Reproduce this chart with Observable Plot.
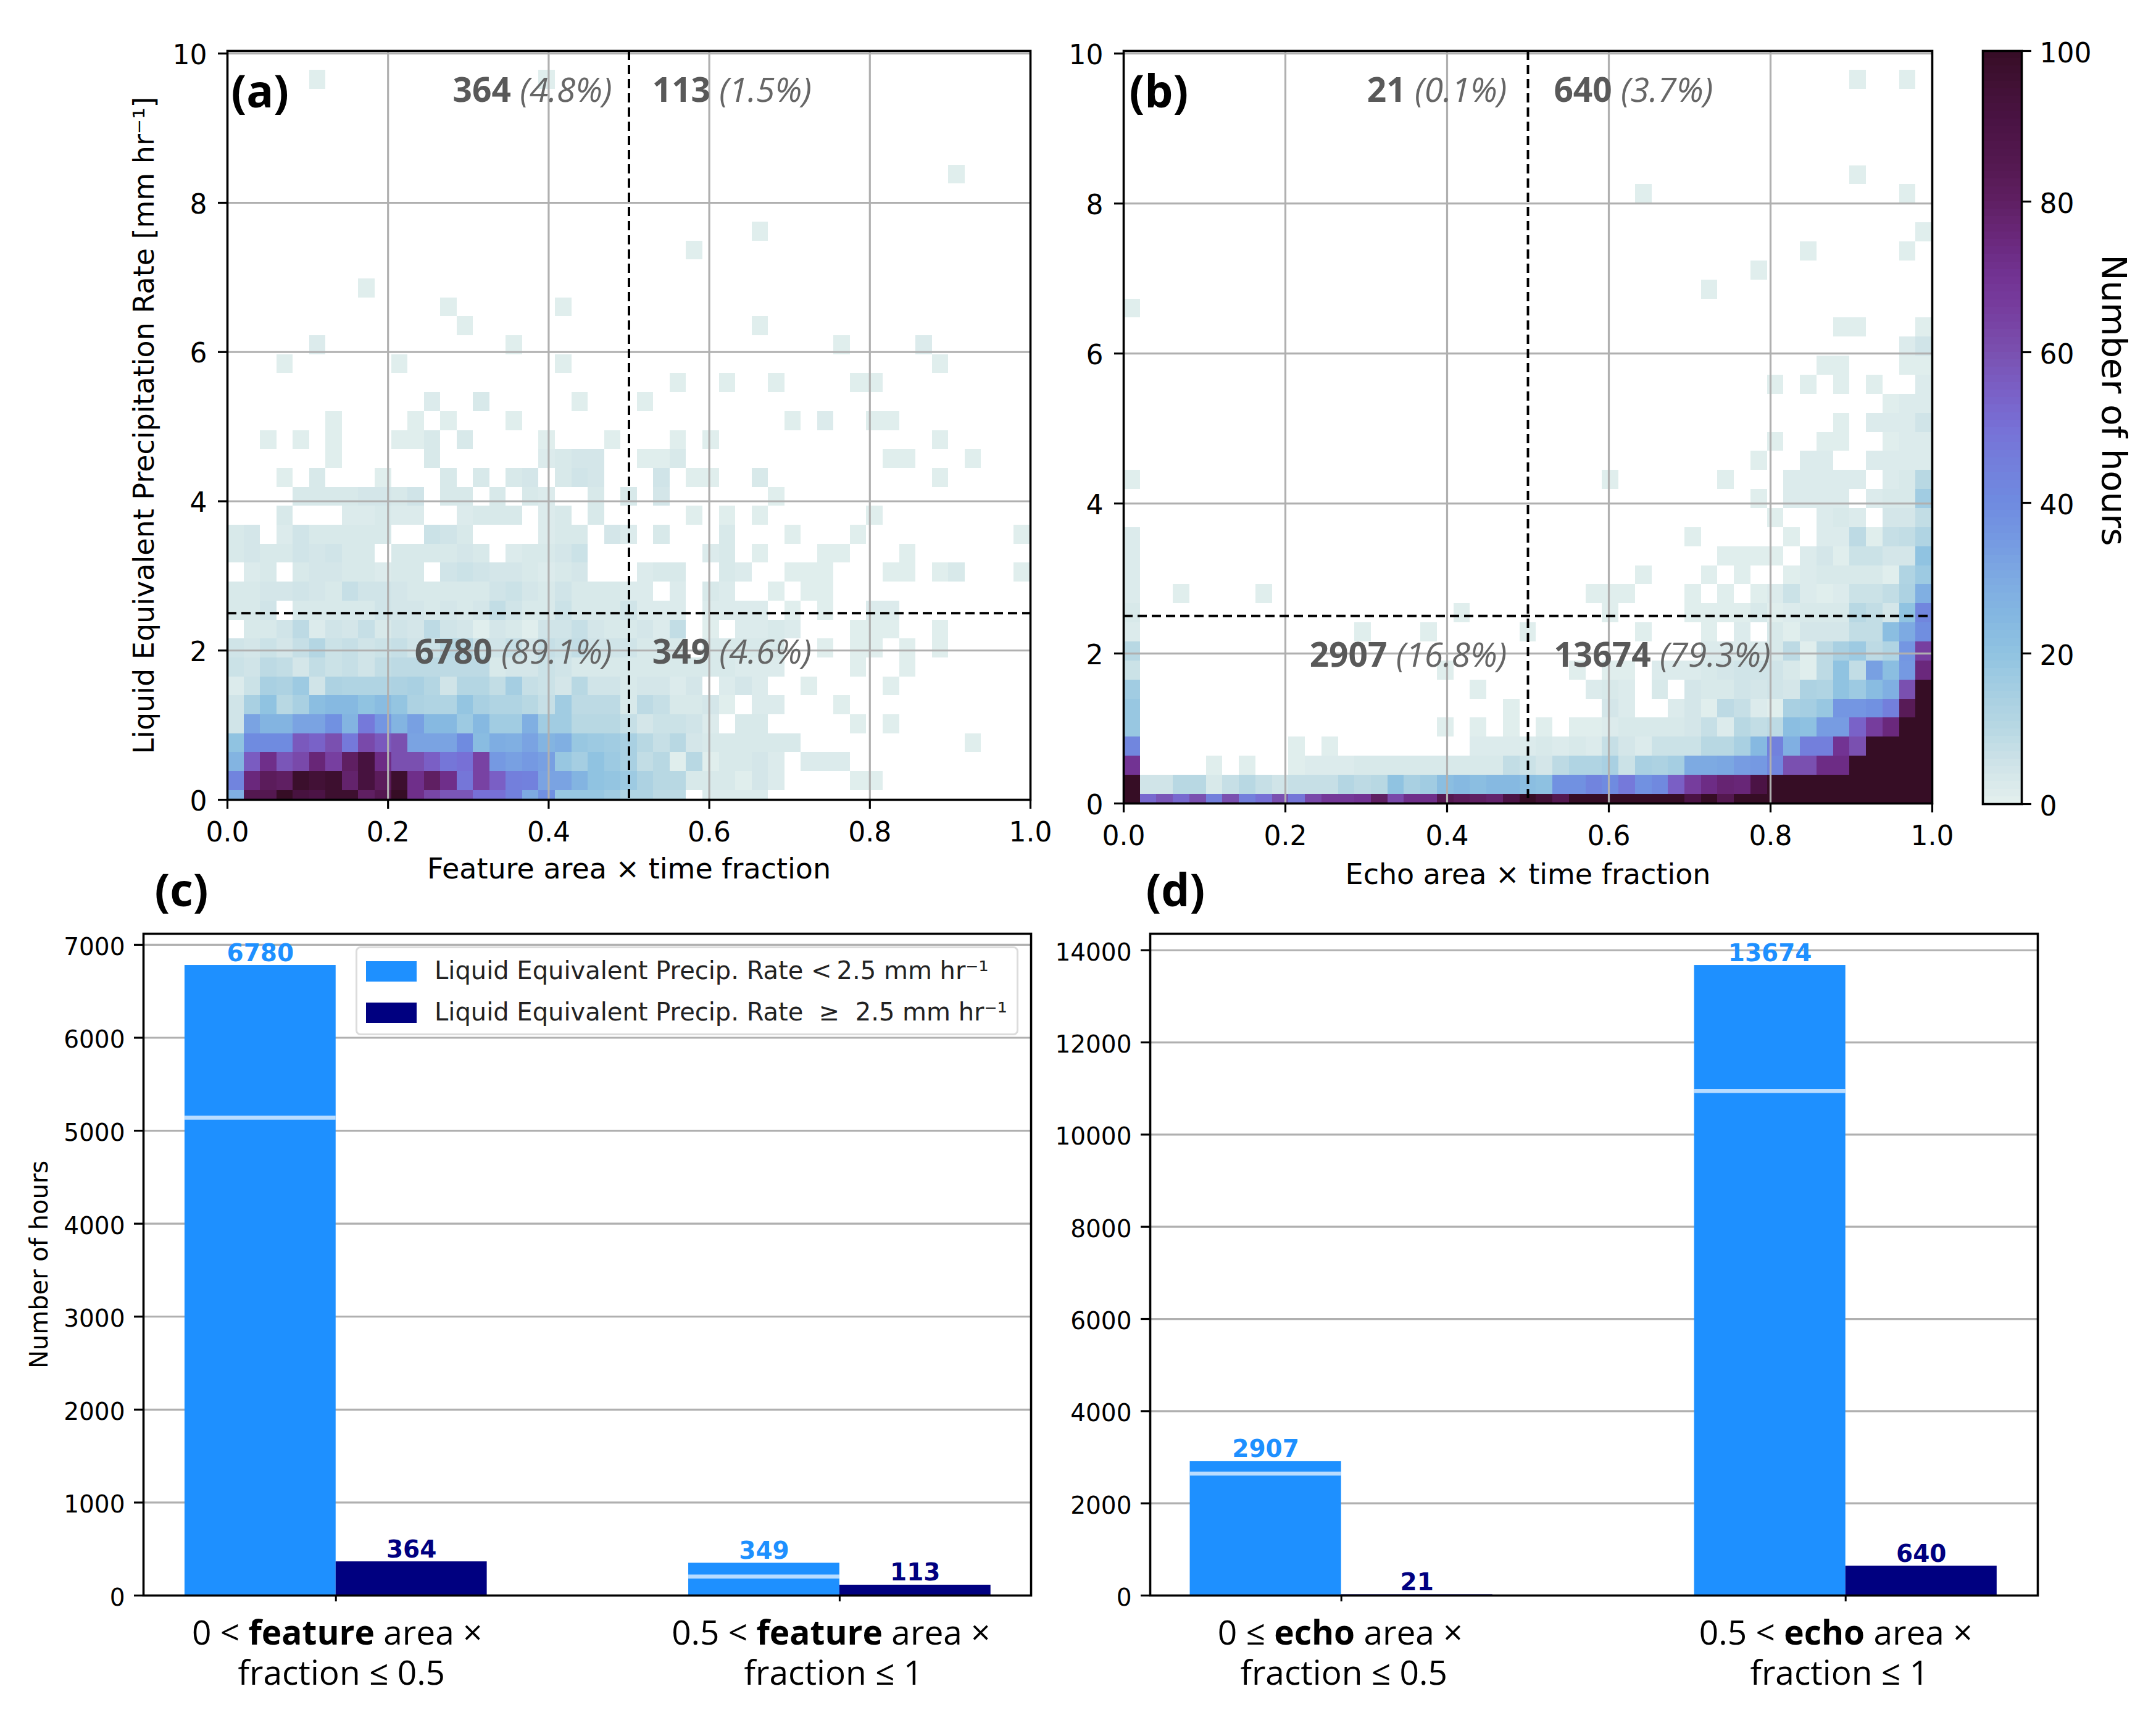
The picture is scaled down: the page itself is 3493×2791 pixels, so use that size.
<!DOCTYPE html>
<html><head><meta charset="utf-8">
<script src="https://cdn.jsdelivr.net/npm/d3@7"></script>
<script src="https://cdn.jsdelivr.net/npm/@observablehq/plot@0.6"></script>
<style>
html,body{margin:0;padding:0;background:#fff}
#page{position:relative;width:3493px;height:2791px;overflow:hidden;background:#fff}
#page svg{position:absolute;left:0;top:0;background:transparent;max-width:none}
#legend{position:absolute;left:576px;top:1533px;width:1074px;height:144px;box-sizing:border-box;background:rgba(255,255,255,.9);border:3px solid #dcdcdc;border-radius:8px;font:40px "DejaVu Sans";color:#222}
#legend div{position:absolute;left:125px;white-space:pre}
#legend i{position:absolute;left:14px;width:82px;height:33px}
</style></head><body><div id="page"></div>
<script>
// heat-map bins: [row, first column, values...]  (49 columns, 40 rows, count of hours)
const panelALow = [
 [0,0,[28,85,85,100,92,90,97,97,80,85,100,72,63,58,58,50,50,44,30,38,18,18,18,16,12,12,9,9]],[0,29,[2,2,2,2]],
 [1,0,[43,75,82,80,98,95,97,78,92,82,97,72,80,72,48,64,55,45,44,32,32,26,20,19,17,13,10,10,3,3,3,1,4,2]],[1,38,[1,1]],
 [2,0,[26,56,72,58,62,76,65,80,92,73,60,60,55,48,50,64,35,33,35,33,18,15,20,17,14,8,10,1,10,1,3,3,4,2]],[2,35,[2,2,2]],
 [3,0,[20,40,40,40,57,54,60,47,62,57,60,32,32,32,40,23,29,28,32,26,28,18,17,16,14,10,7,10,4,3,3,3,3,3,3]],[3,45,[1]],
 [4,0,[5,32,26,26,32,32,38,26,47,36,26,33,24,24,17,24,16,16,28,16,16,10,10,10,7,4,6,6,5,2]],[4,31,[3,3]],[4,38,[1]],[4,40,[1]],
 [5,0,[5,14,20,10,14,22,24,24,20,23,19,13,12,12,19,14,12,12,10,7,16,9,9,9,3,9,7,3,3,4,1]],[5,32,[2,2]],[5,37,[1]],
 [6,0,[2,6,14,13,17,5,13,12,12,12,13,14,11,5,11,11,8,15,7,6,4,10,5,5,3,4,4,2,4]],[6,30,[2,4,2]],[6,35,[1]],[6,40,[1]],
 [7,0,[6,5,9,8,4,8,6,7,5,8,9,9,9,9,9,9,3,4,4,6,5,3,3,3,3,3,3,3,3,3,3,2,2,2]],[7,38,[1]],[7,41,[1]],
 [8,0,[5,4,6,4,7,11,6,7,5,6,7,5,6,10,10,6,5,7,4,7,6,8,5,5,5,3,3,3]],[8,29,[3,3,3,3,3]],[8,36,[1]],[8,38,[1,1]],[8,41,[1]],[8,43,[1]],
 [9,1,[3,3,5,9,2,5,4,7,3,5,4,9,5,4,1,4,3,1,5,5,7,4,3,3,4,2,8]],[9,29,[1]],[9,31,[2,2,3,2]],[9,38,[1,1,1]],[9,43,[1]],
 [10,0,[3,3,5]],[10,4,[3,3,3,3,3,5,4,4,3,4,3,4,8,5,3,3,6,3,3,3,5,2,2,2]],[10,29,[2,2,2,2]],[10,34,[1]],[10,36,[1]],[10,39,[2,2]],
 [11,0,[3,3,4,4,5,4,3,7,5,5,4,3,3,3,3,3,5,6,4,3,5,3,3,3,2,2]],[11,27,[2]],[11,29,[3,2]],[11,33,[1]],[11,35,[1,1]]
];
const panelAHigh = [
 [12,1,[2,3]],[12,4,[3,4,4,3,3,2,3,3]],[12,13,[5,6,5,4,4,3,2,3,4]],[12,25,[2,3,3]],[12,30,[3,2]],[12,34,[1,1,1]],[12,40,[1,1]],[12,43,[1,3]],[12,48,[1]],
 [13,0,[3,4,3,3,5,4,5,3,3]],[13,10,[3,3,3,3,4,3]],[13,17,[2,3,3,4,6]],[13,29,[2,3]],[13,32,[1]],[13,36,[1,1]],[13,41,[1]],
 [14,0,[3,4]],[14,3,[2,5,3,3,3,3,3]],[14,12,[6,5,3]],[14,19,[2,3,3]],[14,23,[4,2]],[14,26,[3]],[14,30,[3]],[14,34,[1]],[14,38,[1]],[14,48,[1]],
 [15,3,[3]],[15,7,[2,2,3,2,2]],[15,14,[2,3,3,3]],[15,19,[2,3]],[15,22,[3]],[15,28,[1]],[15,30,[1]],[15,32,[1]],[15,39,[1]],
 [16,4,[3,3,3,3,4,4,3,5]],[16,13,[3,3]],[16,16,[3]],[16,18,[3,2]],[16,22,[3]],[16,24,[3]],[16,26,[4]],[16,33,[1]],
 [17,3,[1]],[17,5,[3]],[17,9,[1]],[17,13,[3]],[17,15,[3]],[17,17,[3,4]],[17,20,[3,5,4]],[17,26,[5]],[17,28,[1,1]],[17,32,[3]],[17,43,[1]],
 [18,6,[1]],[18,12,[3]],[18,19,[2,3,4,4]],[18,25,[1,1,3]],[18,40,[1,1]],[18,45,[1]],
 [19,2,[1]],[19,4,[1]],[19,6,[1]],[19,10,[1,1,3]],[19,14,[3]],[19,19,[1]],[19,23,[1]],[19,27,[1]],[19,29,[1]],[19,43,[1]],
 [20,6,[1]],[20,11,[1]],[20,13,[1]],[20,17,[1]],[20,34,[1]],[20,36,[2]],[20,39,[1,1]],
 [21,12,[2]],[21,15,[3]],[21,21,[1]],[21,25,[1]],
 [22,27,[1]],[22,30,[1]],[22,33,[1]],[22,38,[1,1]],
 [23,3,[1]],[23,10,[1]],[23,20,[1]],[23,43,[1]],
 [24,5,[2]],[24,17,[1]],[24,37,[1]],[24,42,[2]],
 [25,14,[1]],[25,32,[1]],[26,13,[1]],[26,20,[1]],[27,8,[1]],[29,28,[1]],[30,32,[1]],[33,44,[1]],[38,5,[1]],[38,19,[1]]
];
const panelBLow = [
 [0,0,[100,52,58,52,60,45,60,45,50,60,48,62,68,68,70,80,62,72,72,85,82,80,78,90,100,95,85,100,100,100,100,100,100,100,90,100,85,100,100,100,100,100,100,100,100,100,100,100,100]],
 [1,0,[100,5,5,10,10,3,7,10,7,5,7,7,7,11,9,10,20,14,16,22,24,22,24,24,22,21,38,38,43,40,47,38,41,55,66,73,77,76,90,100,100,100,100,100,100,100,100,100,100]],
 [2,0,[70]],[2,5,[1]],[2,7,[1]],[2,10,[1,2,2,2,3,3,3,3,3,3,3,3,3,8,6,4,9,12,12,14,6,14,13,15,30,30,31,34,35,42,60,60,73,73,100,100,100,100,100]],
 [3,0,[42]],[3,10,[1]],[3,12,[1]],[3,21,[2,2,2,2,3,2,3,2,7,4,2,6,6,6,10,10,14,24,44,28,45,45,70,60,100,100,100,100]],
 [4,0,[18]],[4,19,[1]],[4,21,[1]],[4,23,[1]],[4,25,[1]],[4,27,[1,1]],[4,29,[2,3,3,3,3,4,7,2,10,8,9,22,21,34,34,54,66,75,100,100]],
 [5,0,[18]],[5,23,[1]],[5,29,[4,2]],[5,33,[2,4,1,9,7,2,1,14,15,18,36,36,38,45,83,100]],
 [6,0,[16]],[6,21,[1]],[6,28,[2,3,2]],[6,32,[3]],[6,34,[4,3,3,5,4,5,4,13,12,20,17,23,28,60,100]],
 [7,0,[6]],[7,19,[1]],[7,27,[1]],[7,29,[1,1]],[7,32,[2,2,2,3,4,5,5,5,3,1,9,20,8,33,22,35,75]],
 [8,0,[10]],[8,35,[2,2,2,2,3,9,1,9,14,17,9,12,36,65]],
 [9,0,[2]],[9,14,[1]],[9,18,[1]],[9,24,[1]],[9,31,[1]],[9,35,[1]],[9,37,[2]],[9,39,[3,1,4,4,4,8,8,22,30,39]],
 [10,0,[3]],[10,20,[1]],[10,29,[1]],[10,34,[1,1,1,1,3,1,2,3,3,3,10,8,4,20,42]],
 [11,0,[2]],[11,3,[1]],[11,8,[1]],[11,28,[1,1,1]],[11,34,[1]],[11,36,[1]],[11,38,[1,2,6,2,1,2,6,6,8,13,28]]
];
const panelBHigh = [
 [12,0,[2]],[12,31,[1]],[12,35,[1]],[12,37,[1]],[12,40,[1,2,3,3,3,3,1,12,17]],
 [13,0,[2]],[13,36,[1,1,1,1]],[13,41,[2,4,1,6,6,4,4,20]],
 [14,0,[2]],[14,34,[1]],[14,40,[1]],[14,42,[2,2,9,1,7,8,12]],
 [15,39,[1]],[15,42,[2,3,2]],[15,46,[4,4,8]],
 [16,38,[1]],[16,40,[2,2,2,2]],[16,45,[2,3,3,16]],
 [17,0,[1]],[17,29,[1]],[17,36,[1]],[17,40,[2,2,2,2,2]],[17,46,[2,3,10]],
 [18,38,[1]],[18,41,[2,2]],[18,45,[2,2,2,2]],
 [19,39,[1]],[19,42,[1,1]],[19,46,[1,2,2]],
 [20,43,[1]],[20,45,[2,2,2,5]],[21,46,[1,2,2]],[22,39,[1]],[22,41,[1]],[22,43,[1]],[22,45,[1]],[22,48,[2]],
 [23,42,[1,1]],[23,47,[1,1]],[24,47,[2,5]],[25,43,[1,1]],[25,48,[1]],[26,0,[1]],[27,35,[1]],[28,38,[1]],[29,41,[1]],[29,47,[1]],
 [30,48,[1]],[32,31,[1]],[32,47,[1]],[33,44,[1]],[38,44,[1]],[38,47,[1]]
];
// colour ramp
const rampValues = [0,5,10,15,20,25,30,35,40,45,50,55,60,65,70,75,80,85,90,95,100];
const rampColors = ["#e4f0ee","#d0e4e8","#b8d8e3","#a5cee2","#90c3e1","#84b7e1","#7daae2","#7599e2","#6f8be0","#737fdc","#7770d6","#7a5fc5","#7a50b0","#773fa0","#723393","#6a287c","#5f1f62","#541850","#4b1345","#421136","#360d25"];
// quadrant annotations
const noteA = ["**364** //(4.8%)//","**113** //(1.5%)//","**6780** //(89.1%)//","**349** //(4.6%)//"];
const noteB = ["**21** //(0.1%)//","**640** //(3.7%)//","**2907** //(16.8%)//","**13674** //(79.3%)//"];
// bars
const lowC = [6780,349], highC = [364,113], lineC = [5140,205];
const lowD = [2907,13674], highD = [21,640], lineD = [2645,10945];
const tickC = [["0 < **feature** area ×","fraction ≤ 0.5"],["0.5 < **feature** area ×","fraction ≤ 1"]];
const tickD = [["0 ≤ **echo** area ×","fraction ≤ 0.5"],["0.5 < **echo** area ×","fraction ≤ 1"]];
const legendItems = [["Liquid Equivalent Precip. Rate <\u20092.5 mm hr⁻¹","#1e90ff"],["Liquid Equivalent Precip. Rate  ≥  2.5 mm hr⁻¹","#000080"]];

const W = 3493, H = 2791, DJ = "DejaVu Sans", OS = "Open Sans", GRID = "#b0b0b0";
const page = document.getElementById("page");
const margins = (l,t,r,b) => ({width:W,height:H,marginLeft:l,marginTop:t,marginRight:W-r,marginBottom:H-b,style:{background:"transparent",color:"black"}});
const noText = () => "";
const yAxis = (ticks,size,padding,dy,anchor) => [
  Plot.axisY({anchor,ticks,tickFormat:noText,label:null,tickSize:15,strokeWidth:3.2,color:"black"}),
  Plot.axisY({anchor,ticks,tickFormat:"d",label:null,tickSize:0,tickPadding:15+padding,dy,fontFamily:DJ,fontSize:size,color:"black"})
];

function expand(list){
  const out=[];
  for(const [row,col,vals] of list) vals.forEach((v,i)=>{
    const k=col+i;
    out.push({x1:k/49,x2:(k+1)/49,y1:row===0?0:0.125+0.254*(row-1),y2:0.125+0.254*row,v});
  });
  return out;
}
function rich(svg){
  // tick-only axes leave empty labels behind: drop them
  svg.querySelectorAll("text").forEach(el=>{ if(!el.textContent.trim()) el.remove(); });
  svg.querySelectorAll("text,tspan").forEach(el=>{
    if(el.children.length||!/\*\*|\/\//.test(el.textContent)) return;
    const parts=el.textContent.split(/(\*\*.+?\*\*|\/\/.+?\/\/)/).filter(s=>s);
    el.textContent="";
    for(const p of parts){
      const t=document.createElementNS("http://www.w3.org/2000/svg","tspan");
      if(p.startsWith("**")){t.textContent=p.slice(2,-2);t.setAttribute("font-weight","bold");}
      else if(p.startsWith("//")){t.textContent=p.slice(2,-2);t.setAttribute("font-style","italic");t.setAttribute("fill","#666");}
      else t.textContent=p;
      el.appendChild(t);
    }
  });
  page.appendChild(svg);
}

function heat(opt){
  const notes=opt.notes;
  rich(Plot.plot({...margins(opt.l,82,opt.r,opt.b),
    x:{domain:[0,1],axis:null},y:{domain:[0,10.035],axis:null},
    color:{type:"linear",domain:rampValues,range:rampColors,clamp:true},
    marks:[
      Plot.rect(opt.cells,{x1:"x1",x2:"x2",y1:"y1",y2:"y2",fill:"v",shapeRendering:"crispEdges"}),
      Plot.gridX({ticks:[0.2,0.4,0.6,0.8],stroke:GRID,strokeOpacity:1,strokeWidth:3.2}),
      Plot.gridY({ticks:[2,4,6,8,10],stroke:GRID,strokeOpacity:1,strokeWidth:3.2}),
      Plot.ruleX([0.5],{strokeDasharray:"15,8",strokeWidth:4,stroke:"black"}),
      Plot.ruleY([2.5],{strokeDasharray:"15,8",strokeWidth:4,stroke:"black"}),
      Plot.text([notes[0],notes[2]],{x:opt.nl,y:(d,i)=>[9.5,1.97][i],text:d=>d,textAnchor:"end",fontFamily:OS,fontSize:55,fill:"#595959"}),
      Plot.text([notes[1],notes[3]],{x:opt.nr,y:(d,i)=>[9.5,1.97][i],text:d=>d,textAnchor:"start",fontFamily:OS,fontSize:55,fill:"#595959"}),
      Plot.text([opt.tag],{frameAnchor:"top-left",dx:opt.tagDx,dy:68,lineAnchor:"middle",textAnchor:"start",fontFamily:OS,fontWeight:"bold",fontSize:73,fill:"black"}),
      Plot.text([opt.xlabel],{frameAnchor:"bottom",dy:opt.xdy,lineAnchor:"middle",textAnchor:"middle",fontFamily:DJ,fontSize:46,fill:"black"}),
      opt.ylabel?Plot.text([opt.ylabel],{frameAnchor:"left",rotate:-90,dx:-134,textAnchor:"middle",lineAnchor:"middle",fontFamily:DJ,fontSize:46,fill:"black"}):null,
      Plot.axisX({ticks:[0,0.2,0.4,0.6,0.8,1],tickFormat:".1f",label:null,tickSize:15,tickPadding:21,strokeWidth:3.2,fontFamily:DJ,fontSize:44,color:"black"}),
      ...yAxis([0,2,4,6,8,10],44,18,3),
      Plot.frame({stroke:"black",strokeWidth:3.6})
    ]}));
}
heat({l:368,r:1669,b:1295,cells:expand(panelALow.concat(panelAHigh)),notes:noteA,nl:0.479,nr:0.529,tag:"(a)",tagDx:6,
      xlabel:"Feature area × time fraction",xdy:113,ylabel:"Liquid Equivalent Precipitation Rate [mm hr⁻¹]"});
heat({l:1820,r:3130,b:1301,cells:expand(panelBLow.concat(panelBHigh)),notes:noteB,nl:0.474,nr:0.532,tag:"(b)",tagDx:9,
      xlabel:"Echo area × time fraction",xdy:116});

// colour bar
const barLevels = d3.range(0,100,1);
rich(Plot.plot({...margins(3212,82,3275,1302),
  x:{domain:[0,1],axis:null},y:{domain:[0,100],axis:null},
  color:{type:"linear",domain:rampValues,range:rampColors,clamp:true},
  marks:[
    Plot.rect(barLevels,{x1:0,x2:1,y1:d=>d,y2:d=>d+1,fill:d=>d+0.5,shapeRendering:"crispEdges"}),
    ...yAxis([0,20,40,60,80,100],44,14,4,"right"),
    Plot.text(["Number of hours"],{frameAnchor:"right",dx:148,dy:-44,rotate:90,textAnchor:"middle",lineAnchor:"middle",fontFamily:DJ,fontSize:56,fill:"black"}),
    Plot.frame({stroke:"black",strokeWidth:3.6})
  ]}));

function bars(opt){
  const xs=[0,1];
  const lowData=xs.map((x,i)=>({x1:x-0.3,x2:x,v:opt.low[i]}));
  const highData=xs.map((x,i)=>({x1:x,x2:x+0.3,v:opt.high[i]}));
  const splits=xs.map((x,i)=>({x1:x-0.3,x2:x,v:opt.line[i]}));
  const lineMarks=[];
  opt.ticks.forEach((t,i)=>t.forEach((s,n)=>{
    lineMarks.push(Plot.text([s],{x:()=>i,frameAnchor:"bottom",dx:opt.dx[i][n],dy:[60,125][n]+2,lineAnchor:"middle",textAnchor:"middle",fontFamily:OS,fontSize:55,fill:"black"}));
  }));
  rich(Plot.plot({...margins(opt.l,1512,opt.r,2584),
    x:{domain:opt.xd,axis:null},y:{domain:[0,opt.top],axis:null},
    marks:[
      Plot.gridY({ticks:opt.yt,stroke:GRID,strokeOpacity:1,strokeWidth:3.2}),
      Plot.rect(lowData,{x1:"x1",x2:"x2",y1:0,y2:"v",fill:"#1e90ff"}),
      Plot.rect(highData,{x1:"x1",x2:"x2",y1:0,y2:"v",fill:"#000080"}),
      Plot.ruleY(splits,{x1:"x1",x2:"x2",y:"v",stroke:"#b9dcff",strokeWidth:6.5}),
      Plot.text(lowData,{x:d=>d.x1+0.15,y:"v",text:d=>String(d.v),lineAnchor:"bottom",dy:-7,fontFamily:DJ,fontWeight:"bold",fontSize:39,fill:"#1e90ff"}),
      Plot.text(highData,{x:d=>d.x1+0.15,y:"v",text:d=>String(d.v),lineAnchor:"bottom",dy:-7,fontFamily:DJ,fontWeight:"bold",fontSize:39,fill:"#000080"}),
      ...lineMarks,
      Plot.text([opt.tag],{frameAnchor:"top-left",dx:opt.tagDx,dy:-68,lineAnchor:"middle",textAnchor:"start",fontFamily:OS,fontWeight:"bold",fontSize:73,fill:"black"}),
      opt.ylabel?Plot.text([opt.ylabel],{frameAnchor:"left",rotate:-90,dx:-168,textAnchor:"middle",lineAnchor:"middle",fontFamily:DJ,fontSize:40,fill:"black"}):null,
      Plot.axisX({ticks:[0,1],tickFormat:noText,label:null,tickSize:10,strokeWidth:3,color:"black"}),
      ...yAxis(opt.yt,39,15,4),
      Plot.frame({stroke:"black",strokeWidth:3.6})
    ]}));
}
bars({l:232,r:1670,xd:[-0.382,1.38],top:7119,yt:[0,1000,2000,3000,4000,5000,6000,7000],low:lowC,high:highC,line:lineC,ticks:tickC,dx:[[2,9],[-14,-10]],tag:"(c)",tagDx:18,ylabel:"Number of hours"});
bars({l:1863,r:3301,xd:[-0.379,1.381],top:14358,yt:[0,2000,4000,6000,8000,10000,12000,14000],low:lowD,high:highD,line:lineD,ticks:tickD,dx:[[-2,4],[-16,-10]],tag:"(d)",tagDx:-7});

const lg=document.createElement("div");lg.id="legend";
legendItems.forEach(([t,c],i)=>{
  const s=document.createElement("i");s.style.background=c;s.style.top=(21+67*i)+"px";lg.appendChild(s);
  const d=document.createElement("div");d.textContent=t;d.style.top=(13+67*i)+"px";lg.appendChild(d);
});
page.appendChild(lg);
</script>
</body></html>
